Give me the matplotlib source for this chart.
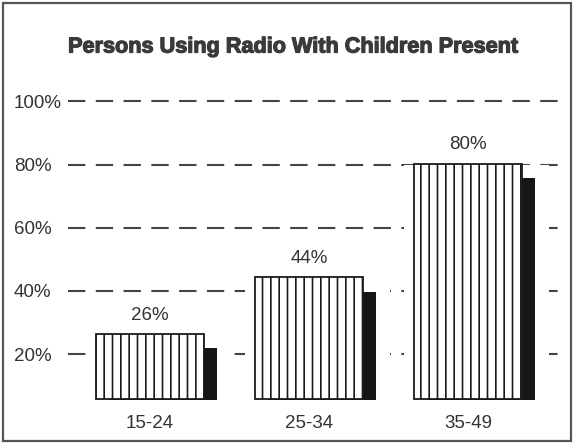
import numpy as np
import matplotlib
matplotlib.use("Agg")
import matplotlib.pyplot as plt
import matplotlib.patheffects as pe
from matplotlib.patches import Rectangle

# data
age_groups = ["15-24", "25-34", "35-49"]
pct_using_radio = [26, 44, 80]
y_ticks = [20, 40, 60, 80, 100]
y_tick_labels = ["20%", "40%", "60%", "80%", "100%"]
title = "Persons Using Radio With Children Present"

plt.rcParams['font.family'] = ['Liberation Sans', 'DejaVu Sans']
plt.rcParams['hatch.linewidth'] = 1.2
plt.rcParams['hatch.color'] = '#1a1a1a'
plt.rcParams['lines.scale_dashes'] = False

text_col = '#333333'

fig = plt.figure(figsize=(5.74, 4.44), dpi=100)
ax = fig.add_axes([68 / 574, (444 - 400) / 444, 494 / 574, (400 - 95) / 444])

x = np.arange(len(age_groups))
w = 0.68           # bar width (data units, ~108 px)
px = 1 / 159       # one pixel in x data units
shadow_dx = 13 * px
shadow_drop = 4.2
y_lo = 5.5

# dashed gridlines
for t in y_ticks:
    ax.axhline(t, color='#444444', lw=1.5, dashes=(12.5, 7.5), zorder=1)

vals = np.array(pct_using_radio, dtype=float)

# white gap around each bar so the grid breaks there
left_pad, right_pad = 10 * px, 14 * px
ax.bar(x - w / 2 - left_pad, vals - y_lo, bottom=y_lo,
       width=w + left_pad + shadow_dx + right_pad,
       align='edge', color='white', zorder=2)

# dark drop shadow, offset right and down
ax.bar(x + shadow_dx, vals - shadow_drop - y_lo, bottom=y_lo, width=w,
       color='#161616', zorder=3)

# striped bars
ax.bar(x, vals - y_lo, bottom=y_lo + 0.3, width=w, facecolor='white',
       edgecolor='#1a1a1a', lw=1.3, hatch='||', zorder=4)

for xi, v in zip(x, pct_using_radio):
    ax.annotate(f"{v}%", (xi, v), xytext=(0, 8), textcoords='offset points',
                ha='center', va='bottom', fontsize=13.5, color=text_col)

ax.set_xlim(-0.516, 2.591)
ax.set_ylim(y_lo, 102)
ax.set_xticks(x)
ax.set_xticklabels(age_groups, fontsize=13.5, color=text_col)
ax.set_yticks(y_ticks)
ax.set_yticklabels(y_tick_labels, fontsize=13.5, color=text_col)
ax.tick_params(axis='x', length=0, pad=11)
ax.tick_params(axis='y', length=0, pad=39)
for lab in ax.get_yticklabels():
    lab.set_horizontalalignment('left')
for s in ax.spines.values():
    s.set_visible(False)

fig.text(293 / 574, 1 - 47 / 444, title, ha='center', va='center',
         fontsize=15.6, fontweight='bold', color='#3a3a3a',
         path_effects=[pe.withStroke(linewidth=0.9, foreground='#3a3a3a')])

# outer frame
fig.patches.append(Rectangle((3 / 574, 3 / 444), 568 / 574, 438 / 444,
                             transform=fig.transFigure, fill=False,
                             ec='#555555', lw=1.6))

fig.savefig("out.png", dpi=100)
